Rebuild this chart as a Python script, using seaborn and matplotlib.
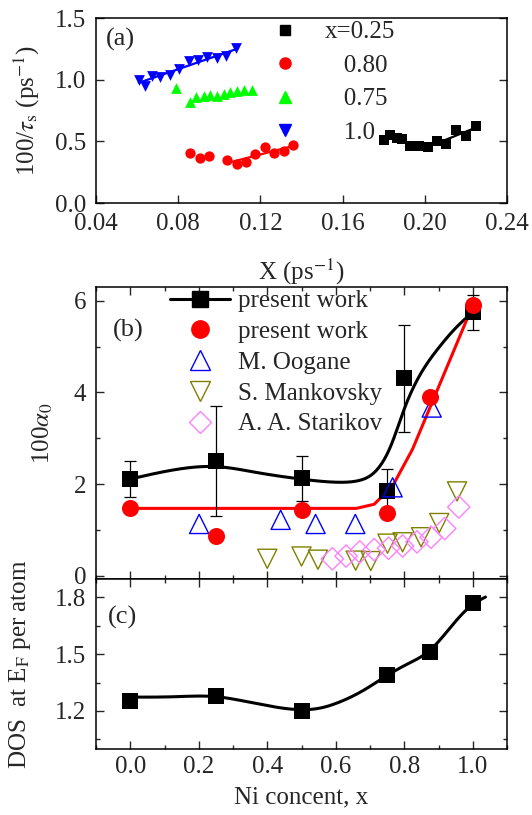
import numpy as np
import matplotlib.pyplot as plt
import seaborn as sns
from matplotlib.lines import Line2D
from matplotlib.ticker import MultipleLocator

sns.set_style('ticks')
plt.rcParams['font.family'] = ['Liberation Serif', 'DejaVu Serif']
plt.rcParams['mathtext.fontset'] = 'stix'
plt.rcParams['font.size'] = 18

# ---- panel (a): 100/tau_s vs X ----
a_x025 = [0.180, 0.1829, 0.1865, 0.1889, 0.193, 0.197, 0.2014, 0.206, 0.2105, 0.2153, 0.2202, 0.2251]
a_y025 = [0.514, 0.554, 0.527, 0.519, 0.465, 0.465, 0.451, 0.500, 0.481, 0.595, 0.541, 0.627]
a_x080 = [0.0859, 0.0905, 0.095, 0.1037, 0.1086, 0.113, 0.1175, 0.1221, 0.1268, 0.1313, 0.1357]
a_y080 = [0.405, 0.365, 0.384, 0.346, 0.316, 0.332, 0.400, 0.454, 0.405, 0.424, 0.468]
a_x075 = [0.0791, 0.0856, 0.0888, 0.0924, 0.0956, 0.0989, 0.1021, 0.1054, 0.1086, 0.1122, 0.1159]
a_y075 = [0.932, 0.816, 0.859, 0.870, 0.878, 0.865, 0.886, 0.897, 0.905, 0.914, 0.919]
a_x100 = [0.0608, 0.0637, 0.0672, 0.0713, 0.0758, 0.0802, 0.0851, 0.0895, 0.094, 0.0989, 0.1034, 0.1083]
a_y100 = [1.000, 0.951, 1.027, 1.022, 1.041, 1.086, 1.149, 1.162, 1.184, 1.176, 1.189, 1.257]

# ---- panel (b): 100 alpha_0 vs Ni content ----
b_x_sq = [0.0, 0.25, 0.5, 0.75, 0.8, 1.0]
b_y_sq = [2.11, 2.51, 2.13, 1.86, 4.31, 5.75]
b_err_sq = [0.40, 1.20, 0.49, 0.47, 1.17, 0.38]
b_curve_x = [0.0, 0.127, 0.252, 0.371, 0.498, 0.605, 0.663, 0.712, 0.761, 0.80, 0.839, 0.898, 0.956, 1.0]
b_curve_y = [2.11, 2.31, 2.38, 2.25, 2.11, 2.04, 2.07, 2.25, 2.84, 3.64, 4.29, 4.95, 5.45, 5.75]
b_x_ci = [0.0, 0.25, 0.5, 0.75, 0.875, 1.0]
b_y_ci = [1.47, 0.87, 1.44, 1.38, 3.91, 5.90]
b_red_x = [0.0, 0.66, 0.712, 0.766, 0.824, 1.0]
b_red_y = [1.47, 1.47, 1.56, 1.96, 2.76, 5.90]
oog_x = [0.201, 0.439, 0.541, 0.657, 0.766, 0.88]
oog_y = [1.13, 1.22, 1.13, 1.13, 1.93, 3.67]
man_x = [0.40, 0.50, 0.548, 0.658, 0.702, 0.751, 0.795, 0.849, 0.902, 0.954]
man_y = [0.37, 0.42, 0.35, 0.33, 0.32, 0.70, 0.73, 0.84, 1.15, 1.84]
sta_x = [0.59, 0.63, 0.67, 0.712, 0.754, 0.795, 0.837, 0.878, 0.918, 0.959]
sta_y = [0.37, 0.43, 0.52, 0.57, 0.60, 0.65, 0.74, 0.84, 1.03, 1.50]

# ---- panel (c): DOS at E_F ----
c_x = [0.0, 0.25, 0.5, 0.75, 0.875, 1.0]
c_y = [1.255, 1.279, 1.202, 1.389, 1.511, 1.770]
c_curve_x = [0.0, 0.127, 0.252, 0.332, 0.41, 0.5, 0.556, 0.605, 0.683, 0.749, 0.81, 0.875, 0.937, 1.0, 1.037]
c_curve_y = [1.273, 1.275, 1.275, 1.252, 1.225, 1.207, 1.216, 1.243, 1.311, 1.386, 1.448, 1.520, 1.645, 1.761, 1.80]


def smooth(xk, yk, n=300):
    # natural cubic spline through the knots
    xk = np.asarray(xk, float)
    yk = np.asarray(yk, float)
    m = len(xk)
    h = np.diff(xk)
    A = np.zeros((m, m))
    r = np.zeros(m)
    A[0, 0] = A[-1, -1] = 1
    for i in range(1, m - 1):
        A[i, i - 1] = h[i - 1]
        A[i, i] = 2 * (h[i - 1] + h[i])
        A[i, i + 1] = h[i]
        r[i] = 6 * ((yk[i + 1] - yk[i]) / h[i] - (yk[i] - yk[i - 1]) / h[i - 1])
    M = np.linalg.solve(A, r)
    xs = np.linspace(xk[0], xk[-1], n)
    idx = np.clip(np.searchsorted(xk, xs) - 1, 0, m - 2)
    x0, x1 = xk[idx], xk[idx + 1]
    hh = x1 - x0
    t0, t1 = x1 - xs, xs - x0
    ys = (M[idx] * t0 ** 3 + M[idx + 1] * t1 ** 3) / (6 * hh) \
        + (yk[idx] / hh - M[idx] * hh / 6) * t0 + (yk[idx + 1] / hh - M[idx + 1] * hh / 6) * t1
    return xs, ys


def style(ax):
    for s in ax.spines.values():
        s.set_linewidth(1.1)
        s.set_color('black')
    ax.tick_params(which='both', direction='in', top=True, right=True, width=1.0, labelsize=18)
    ax.tick_params(which='major', length=6)
    ax.tick_params(which='minor', length=3)
    ax.tick_params(axis='y', pad=7)
    ax.tick_params(axis='x', pad=5)


fig = plt.figure(figsize=(5.32, 8.15), dpi=100)
ax_a = fig.add_axes([0.1805, 0.7509, 0.7726, 0.2270])
ax_b = fig.add_axes([0.1805, 0.2896, 0.7726, 0.3583])
ax_c = fig.add_axes([0.1805, 0.0810, 0.7726, 0.2086])

# panel (a)
fit_b = np.polyfit(a_x100, a_y100, 1)
xb = np.array([a_x100[0], a_x100[-1]])
sns.lineplot(x=xb, y=np.polyval(fit_b, xb), ax=ax_a, color='blue', lw=1.6)
fit_r = np.polyfit(a_x080[3:], a_y080[3:], 1)
xr = np.array([a_x080[3], a_x080[-1]])
sns.lineplot(x=xr, y=np.polyval(fit_r, xr), ax=ax_a, color='red', lw=1.6)
sns.lineplot(x=a_x025[:7], y=a_y025[:7], ax=ax_a, color='black', lw=1.6, sort=False, estimator=None)
fit_k = np.polyfit(a_x025[6:], a_y025[6:], 1)
xk_ = np.array([a_x025[6], a_x025[-1]])
sns.lineplot(x=xk_, y=np.polyval(fit_k, xk_), ax=ax_a, color='black', lw=1.6)

sns.scatterplot(x=a_x025, y=a_y025, ax=ax_a, marker='s', s=50, color='black', edgecolor='black', linewidth=0, zorder=3)
sns.scatterplot(x=a_x080, y=a_y080, ax=ax_a, marker='o', s=55, color='red', edgecolor='red', linewidth=0, zorder=3)
sns.scatterplot(x=a_x075, y=a_y075, ax=ax_a, marker='^', s=60, color='#00ff00', edgecolor='#00ff00', linewidth=0, zorder=3)
sns.scatterplot(x=a_x100, y=a_y100, ax=ax_a, marker='v', s=60, color='blue', edgecolor='blue', linewidth=0, zorder=3)

ax_a.set_xlim(0.04, 0.24)
ax_a.set_ylim(0, 1.5)
ax_a.set_xticks(np.arange(0.04, 0.241, 0.04))
ax_a.set_xticklabels([f'{v:.2f}' for v in np.arange(0.04, 0.241, 0.04)])
ax_a.set_yticks([0, 0.5, 1.0, 1.5])
ax_a.set_yticklabels(['0.0', '0.5', '1.0', '1.5'])
ax_a.set_xlabel('X (ps$^{-1}$)', fontsize=18, labelpad=16)
ax_a.set_ylabel(r'100/$\tau_{\rm s}$ (ps$^{-1}$)', fontsize=18)
ax_a.yaxis.set_label_coords(-0.131, 0.5)
style(ax_a)
ax_a.tick_params(top=False)
ax_a.tick_params(axis='x', pad=7)
ax_a.text(0.025, 0.85, '(a)', transform=ax_a.transAxes, fontsize=19)

h_a = [Line2D([], [], ls='none', marker='s', color='black', ms=7),
       Line2D([], [], ls='none', marker='o', color='red', ms=8),
       Line2D([], [], ls='none', marker='^', color='#00ff00', ms=8),
       Line2D([], [], ls='none', marker='v', color='blue', ms=8)]
ax_a.legend(h_a, ['x=0.25', '   0.80', '   0.75', '   1.0'], loc='upper left',
            bbox_to_anchor=(0.43, 0.985), frameon=False, fontsize=18, handlelength=1.0,
            handletextpad=1.1, labelspacing=0.44, borderpad=0, borderaxespad=0)

# panel (b)
cx, cy = smooth(b_curve_x, b_curve_y)
sns.lineplot(x=cx, y=cy, ax=ax_b, color='black', lw=2.2, sort=False, estimator=None)
sns.lineplot(x=b_red_x, y=b_red_y, ax=ax_b, color='red', lw=2.2, sort=False, estimator=None)
ax_b.errorbar(b_x_sq, b_y_sq, yerr=b_err_sq, fmt='none', ecolor='black', elinewidth=0.9, capsize=4, capthick=0.9, zorder=2)
sns.scatterplot(x=b_x_sq, y=b_y_sq, ax=ax_b, marker='s', s=120, color='black', edgecolor='black', linewidth=0, zorder=3)
sns.scatterplot(x=b_x_ci, y=b_y_ci, ax=ax_b, marker='o', s=150, color='red', edgecolor='red', linewidth=0, zorder=4)
sns.scatterplot(x=oog_x, y=oog_y, ax=ax_b, marker='^', s=190, color='blue', facecolor='none', edgecolor='blue', linewidth=1.0, zorder=3)
sns.scatterplot(x=man_x, y=man_y, ax=ax_b, marker='v', s=190, color='#808000', facecolor='none', edgecolor='#808000', linewidth=1.0, zorder=3)
sns.scatterplot(x=sta_x, y=sta_y, ax=ax_b, marker='D', s=130, color='#ff80ff', facecolor='none', edgecolor='#ff80ff', linewidth=1.0, zorder=3)

ax_b.set_xlim(-0.1, 1.1)
ax_b.set_ylim(-0.07, 6.3)
ax_b.set_xticks(np.arange(0, 1.01, 0.2))
ax_b.xaxis.set_minor_locator(MultipleLocator(0.1))
ax_b.set_yticks([0, 2, 4, 6])
ax_b.yaxis.set_minor_locator(MultipleLocator(1))
ax_b.set_xticklabels([])
ax_b.set_ylabel(r'100$\alpha_0$', fontsize=18)
ax_b.yaxis.set_label_coords(-0.10, 0.5)
style(ax_b)
ax_b.text(0.04, 0.83, '(b)', transform=ax_b.transAxes, fontsize=19)

h_b = [Line2D([], [], color='black', lw=2.2, marker='s', ms=11),
       Line2D([], [], ls='none', marker='o', color='red', ms=12.5),
       Line2D([], [], ls='none', marker='^', mfc='none', mec='blue', ms=14),
       Line2D([], [], ls='none', marker='v', mfc='none', mec='#808000', ms=14),
       Line2D([], [], ls='none', marker='D', mfc='none', mec='#ff80ff', ms=11)]
ax_b.legend(h_b, ['present work', 'present work', 'M. Oogane', 'S. Mankovsky', 'A. A. Starikov'],
            loc='upper left', bbox_to_anchor=(0.18, 0.99), frameon=False, fontsize=18,
            handlelength=2.4, handletextpad=0.3, labelspacing=0.33, borderpad=0, borderaxespad=0)

# panel (c)
dx, dy = smooth(c_curve_x, c_curve_y)
sns.lineplot(x=dx, y=dy, ax=ax_c, color='black', lw=2.2, sort=False, estimator=None)
sns.scatterplot(x=c_x, y=c_y, ax=ax_c, marker='s', s=140, color='black', edgecolor='black', linewidth=0, zorder=3)
ax_c.set_xlim(-0.1, 1.1)
ax_c.set_ylim(1.0, 1.895)
ax_c.set_xticks(np.arange(0, 1.01, 0.2))
ax_c.set_xticklabels([f'{v:.1f}' for v in np.arange(0, 1.01, 0.2)])
ax_c.xaxis.set_minor_locator(MultipleLocator(0.1))
ax_c.set_yticks([1.2, 1.5, 1.8])
ax_c.set_yticks([1.05, 1.35, 1.65], minor=True)
ax_c.set_xlabel('Ni concent, x', fontsize=18, labelpad=6)
ax_c.set_ylabel(r'DOS  at E$_{\rm F}$ per atom', fontsize=18)
ax_c.yaxis.set_label_coords(-0.153, 0.5)
style(ax_c)
ax_c.text(0.03, 0.74, '(c)', transform=ax_c.transAxes, fontsize=19)

fig.savefig('out.png', dpi=100)
